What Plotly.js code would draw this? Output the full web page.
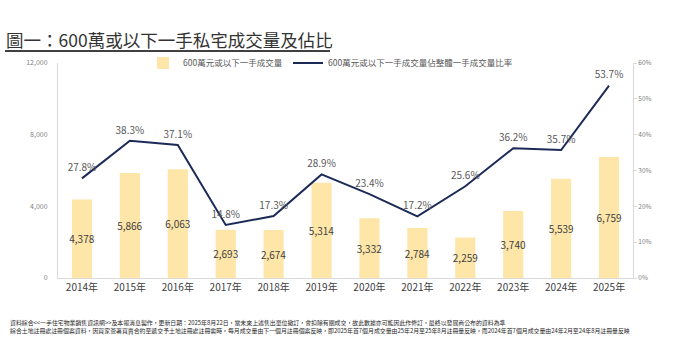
<!DOCTYPE html>
<html>
<head>
<meta charset="utf-8">
<script src="https://cdn.plot.ly/plotly-3.0.1.min.js"></script>
<style>html,body{margin:0;padding:0;background:#fff;}#chart{width:676px;height:364px;}</style>
</head>
<body>
<div id="chart"></div>
<script>
const years = ['2014年','2015年','2016年','2017年','2018年','2019年','2020年','2021年','2022年','2023年','2024年','2025年'];
const volume = [4378, 5866, 6063, 2693, 2674, 5314, 3332, 2784, 2259, 3740, 5539, 6759];
const share = [27.8, 38.3, 37.1, 14.8, 17.3, 28.9, 23.4, 17.2, 25.6, 36.2, 35.7, 53.7];
const barName = '600萬元或以下一手成交量';
const lineName = '600萬元或以下一手成交量佔整體一手成交量比率';
const titleText = '圖一：600萬或以下一手私宅成交量及佔比';
const noteText = '資料綜合&lt;&lt;一手住宅物業銷售資訊網&gt;&gt;及本報消息製作，更新日期：2025年8月22日，當未來上述售出單位撤訂，會扣除有關成交，故此數據亦可能因此作修訂，最終以發展商公布的資料為準<br>' +
  '綜合土地註冊處註冊個案資料，因買家簽署買賣合約至遞交予土地註冊處註冊需時，每月成交量由下一個月註冊個案反映，即2025年首7個月成交量由25年2月至25年8月註冊量反映，而2024年首7個月成交量由24年2月至24年8月註冊量反映';

const FONT = '"Noto Sans CJK TC", "Noto Sans", sans-serif';
const shareFrac = share.map(v => v / 100);

const traces = [
  {
    type: 'bar', x: years, y: volume, name: barName, legend: 'legend',
    marker: {color: '#FDE6A8'},
    text: volume.map(v => v.toLocaleString('en-US')),
    textposition: 'inside', insidetextanchor: 'middle', textangle: 0,
    constraintext: 'none',
    textfont: {size: 10, color: '#404040', family: FONT},
    hoverinfo: 'skip'
  },
  {
    type: 'scatter', mode: 'lines', x: years, y: shareFrac, yaxis: 'y2',
    name: lineName, legend: 'legend2',
    line: {color: '#1B2A56', width: 2},
    hoverinfo: 'skip'
  },
  {
    type: 'scatter', mode: 'markers+text', x: years, y: shareFrac, yaxis: 'y2',
    showlegend: false,
    marker: {size: 6, opacity: 0, color: '#1B2A56'},
    text: share.map(v => v.toFixed(1) + '%'),
    textposition: 'top center',
    textfont: {size: 10, color: '#595959', family: FONT},
    cliponaxis: false,
    hoverinfo: 'skip'
  }
];

const legendCommon = {
  orientation: 'h', xanchor: 'left', y: 1.0, yanchor: 'middle',
  font: {size: 8.5, color: '#595959', family: FONT}, bgcolor: 'rgba(0,0,0,0)'
};

const layout = {
  width: 676, height: 364,
  margin: {l: 58, r: 43, t: 63, b: 86},
  paper_bgcolor: '#fff', plot_bgcolor: '#fff',
  font: {family: FONT, color: '#595959'},
  bargap: 0.58,
  showlegend: true,
  legend: Object.assign({}, legendCommon, {x: (143 - 58) / 575}),
  legend2: Object.assign({}, legendCommon, {x: (288 - 58) / 575}),
  title: {
    text: titleText, x: 6 / 676, xanchor: 'left', xref: 'container',
    y: 1 - 41 / 364, yanchor: 'middle', yref: 'container',
    font: {size: 17.5, color: '#333333', family: FONT}
  },
  xaxis: {
    type: 'category', range: [-0.5, years.length - 0.5], showgrid: false, zeroline: false, automargin: false,
    showline: true, linecolor: '#D9D9D9', linewidth: 1,
    ticks: '', tickfont: {size: 10, color: '#404040', family: FONT}
  },
  yaxis: {
    range: [0, 12000], tickvals: [0, 4000, 8000, 12000], ticktext: ['0', '4,000', '8,000', '12,000'],
    showgrid: false, zeroline: false, showline: true, linecolor: '#D9D9D9', linewidth: 1, automargin: false,
    ticks: '', ticklen: 0, tickfont: {size: 7, color: '#7F7F7F', family: FONT}, ticklabelstandoff: 8
  },
  yaxis2: {
    range: [0, 0.6], overlaying: 'y', side: 'right', tickformat: '.0%', dtick: 0.1, automargin: false,
    showgrid: false, zeroline: false, showline: true, linecolor: '#D9D9D9', linewidth: 1,
    ticks: 'outside', ticklen: 3, tickcolor: '#D9D9D9', tickfont: {size: 6.5, color: '#7F7F7F', family: FONT}
  },
  shapes: [
    {type: 'line', xref: 'paper', yref: 'paper', x0: (5 - 58) / 575, x1: (330 - 58) / 575,
     y0: (278 - 51) / 215, y1: (278 - 51) / 215, line: {color: '#000', width: 1.5}}
  ],
  annotations: [
    {xref: 'paper', yref: 'paper', x: (8 - 58) / 575, y: (278 - 316) / 215, xanchor: 'left', yanchor: 'top',
     align: 'left', showarrow: false, text: noteText,
     font: {size: 5.9, color: '#262626', family: FONT}}
  ]
};

Plotly.newPlot('chart', traces, layout, {staticPlot: true, displayModeBar: false});
</script>
</body>
</html>
